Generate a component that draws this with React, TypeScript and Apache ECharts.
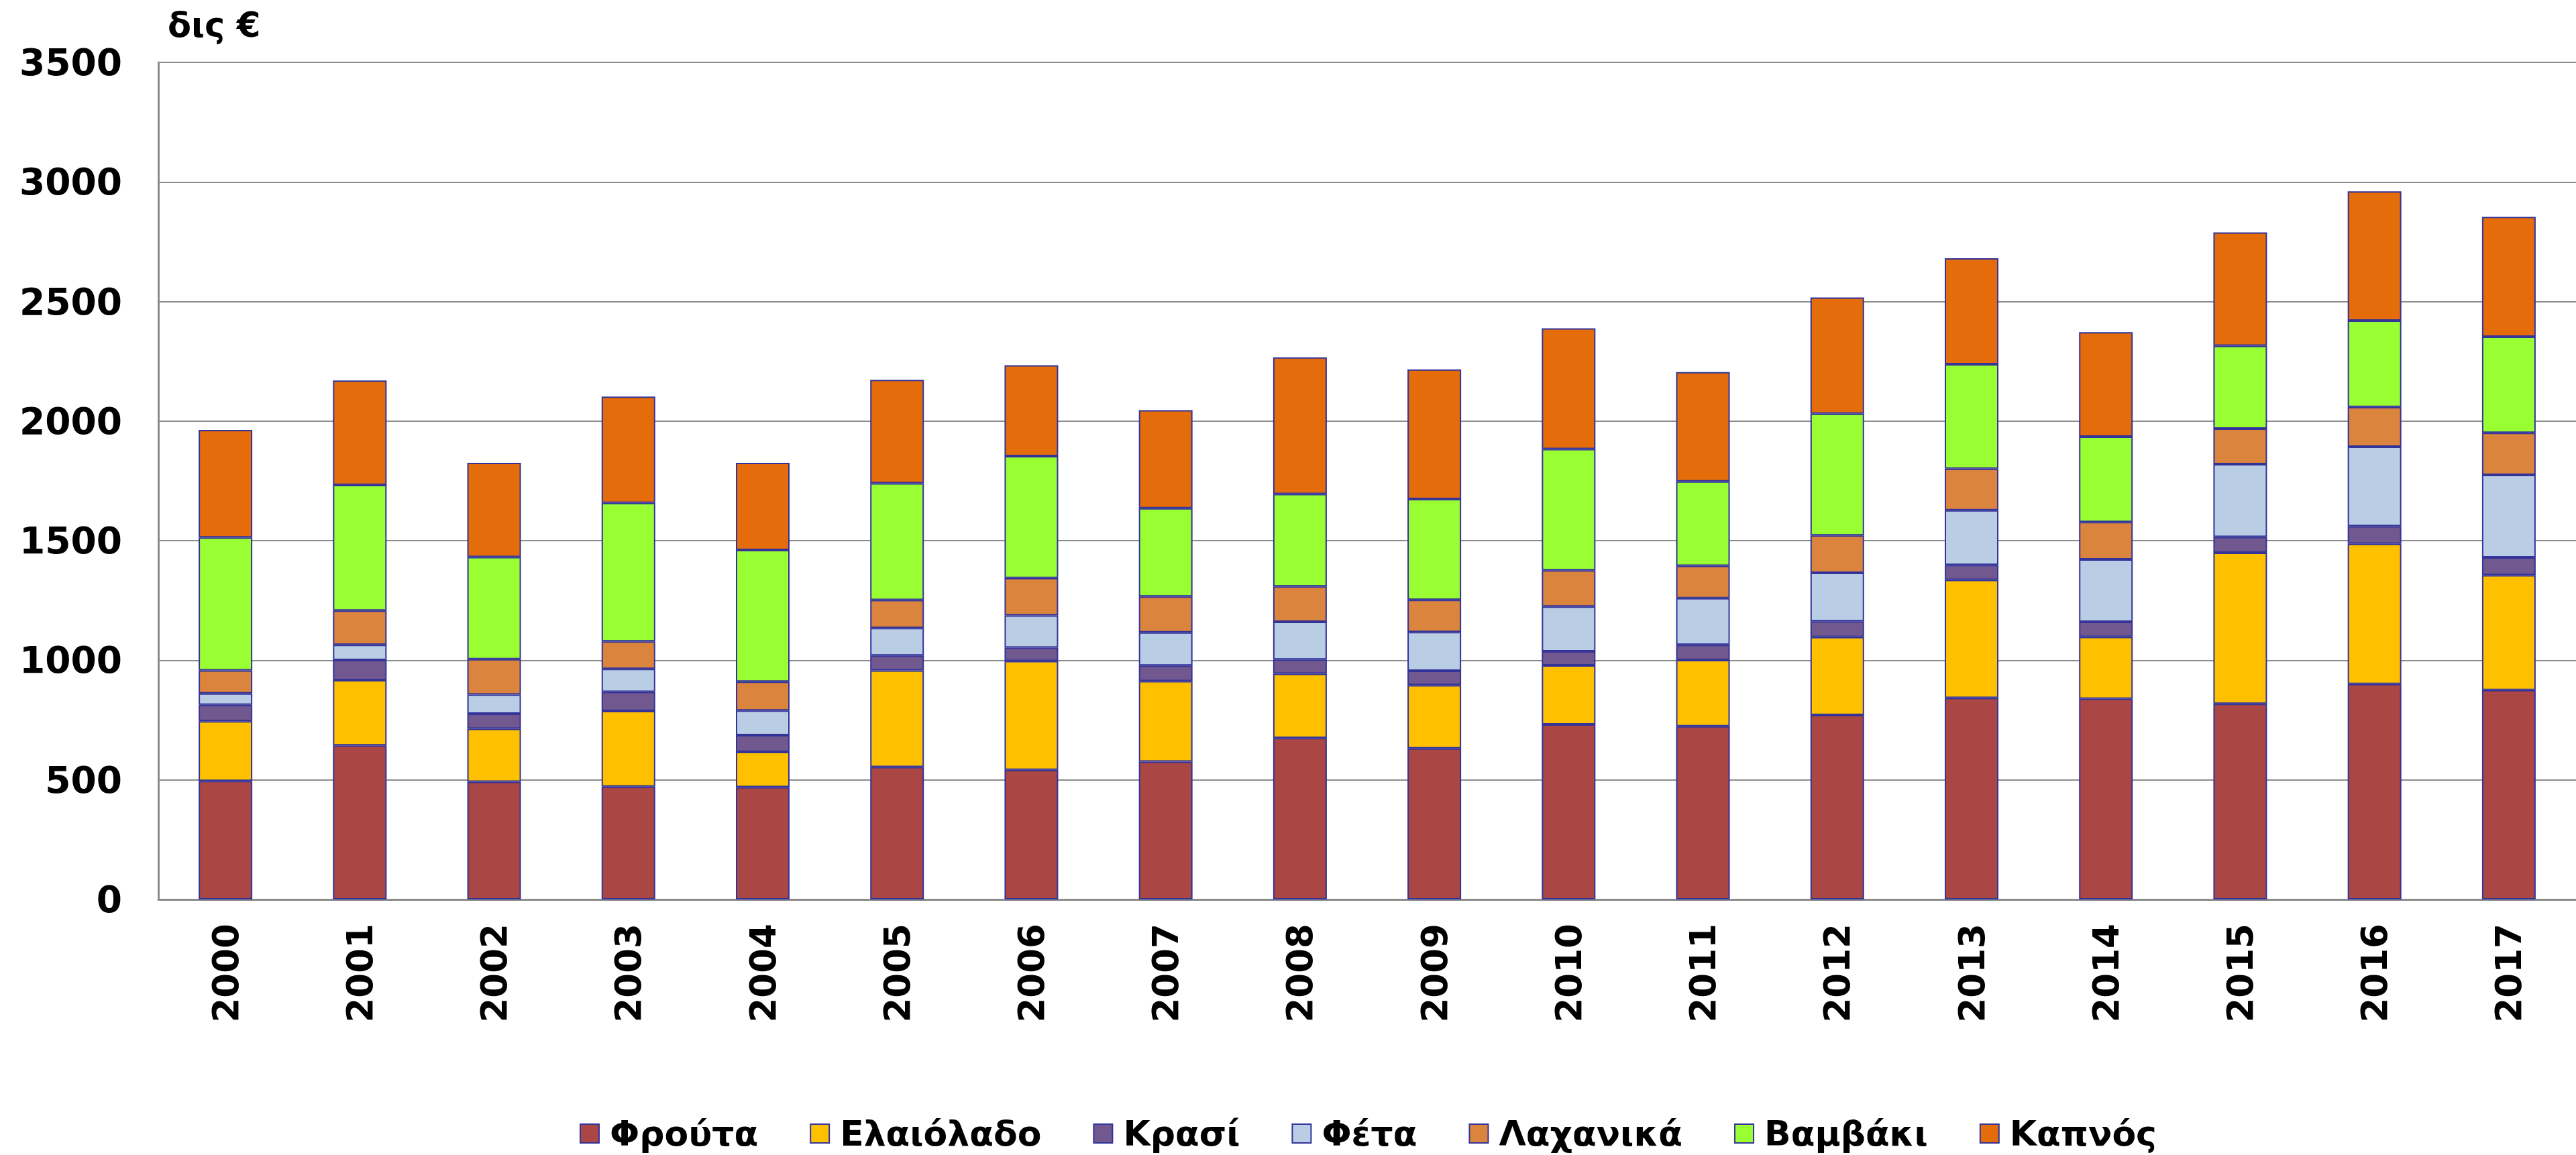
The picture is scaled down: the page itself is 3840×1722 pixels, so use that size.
import React, { useEffect, useRef } from "react";
import * as echarts from "echarts";

const years = ["2000","2001","2002","2003","2004","2005","2006","2007","2008","2009","2010","2011","2012","2013","2014","2015","2016","2017"];
const seriesNames = ["Φρούτα","Ελαιόλαδο","Κρασί","Φέτα","Λαχανικά","Βαμβάκι","Καπνός"];
const frouta = [496,644,492,472,470,554,542,576,675,632,732,724,771,843,839,818,901,876];
const elaiolado = [249,273,222,316,147,404,455,337,269,264,247,277,326,493,259,632,586,480];
const krasi = [69,84,63,80,70,62,56,65,59,60,59,64,66,63,63,66,74,74];
const feta = [48,64,80,96,103,115,135,139,158,162,187,195,203,228,261,304,332,345];
const lachanika = [96,143,148,115,121,117,156,150,148,135,151,135,156,174,156,149,166,176];
const vamvaki = [556,525,427,579,550,488,510,369,386,421,507,353,509,437,357,346,361,402];
const kapnos = [449,437,394,445,365,433,380,410,572,542,505,457,486,443,437,474,541,501];
const colors = ["#AA4643","#FFC000","#71588F","#B9CDE5","#DB843D","#99FF33","#E46C0A"];
const yTicks = { min: 0, max: 3500, interval: 500 };
const unitLabel = "δις €";

const FONT = "'DejaVu Sans', Verdana, sans-serif";

export default function App() {
  const ref = useRef<HTMLDivElement>(null);
  useEffect(() => {
    if (!ref.current) return;
    const chart = echarts.init(ref.current, null, { renderer: "svg" });
    const dataSets = [frouta, elaiolado, krasi, feta, lachanika, vamvaki, kapnos];
    chart.setOption({
      animation: false,
      backgroundColor: "#ffffff",
      title: {
        text: unitLabel,
        left: 250,
        top: 12,
        padding: 0,
        textStyle: { fontFamily: FONT, fontWeight: "bold", fontSize: 51, color: "#000" },
      },
      legend: {
        data: seriesNames,
        icon: "rect",
        left: 864,
        top: 1662,
        padding: 0,
        itemWidth: 28,
        itemHeight: 28,
        itemGap: 77,
        textStyle: {
          fontFamily: FONT,
          fontWeight: "bold",
          fontSize: 52,
          color: "#000",
          lineHeight: 56,
          padding: [0, 0, 0, 11],
        },
      },
      grid: { left: 236, right: -18, top: 93, bottom: 381, containLabel: false },
      xAxis: {
        type: "category",
        data: years,
        axisLine: { show: true, lineStyle: { color: "#8c8c8c", width: 3 } },
        axisTick: { show: false },
        axisLabel: {
          rotate: 90,
          margin: 36,
          fontFamily: FONT,
          fontWeight: "bold",
          fontSize: 53,
          color: "#000",
        },
      },
      yAxis: {
        type: "value",
        min: yTicks.min,
        max: yTicks.max,
        interval: yTicks.interval,
        axisLine: { show: true, lineStyle: { color: "#8c8c8c", width: 3 } },
        axisTick: { show: false },
        splitLine: { show: true, lineStyle: { color: "#8c8c8c", width: 2 } },
        axisLabel: {
          margin: 54,
          fontFamily: FONT,
          fontWeight: "bold",
          fontSize: 55,
          color: "#000",
          formatter: (v: number) => String(v),
        },
      },
      series: seriesNames.map((name, i) => ({
        name,
        type: "bar",
        stack: "total",
        barWidth: 80,
        data: dataSets[i],
        itemStyle: { color: colors[i], borderColor: "#333399", borderWidth: 2 },
      })),
    });
    return () => chart.dispose();
  }, []);
  return (
    <div
      ref={ref}
      style={{ position: "fixed", left: 0, top: 0, width: 3840, height: 1722, overflow: "hidden" }}
    />
  );
}
